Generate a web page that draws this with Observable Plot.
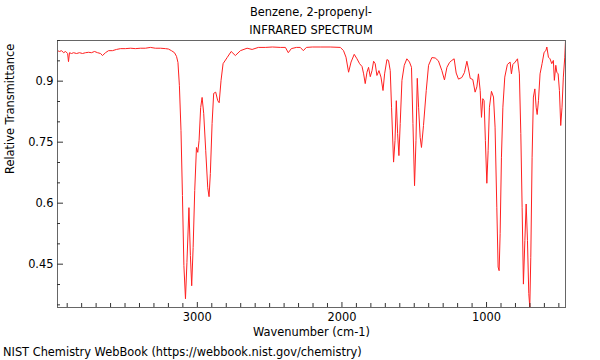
<!DOCTYPE html>
<html>
<head>
<meta charset="utf-8">
<script src="https://cdn.jsdelivr.net/npm/d3@7"></script>
<script src="https://cdn.jsdelivr.net/npm/@observablehq/plot@0.6"></script>
<style>
  body { margin: 0; background: #fff; font-family: "DejaVu Sans", sans-serif; }
  #title { width: 600px; box-sizing: border-box; padding: 3px 35px 0 57px; text-align: center; font-size: 11.4px; line-height: 18px; color: #000; height: 39px; }
  #caption { font-size: 11.4px; line-height: 20px; padding-left: 3px; color: #000; }
</style>
</head>
<body>
<div id="title"><div>Benzene, 2-propenyl-</div><div>INFRARED SPECTRUM</div></div>
<div id="chart"></div>
<div id="caption">NIST Chemistry WebBook (https://webbook.nist.gov/chemistry)</div>
<script>
const wavenumber = [3967,3953,3939,3925,3911,3897,3891,3884,3870,3856,3835,3815,3794,3773,3752,3732,3711,3690,3669,3656,3635,3614,3587,3559,3531,3497,3462,3428,3393,3359,3324,3290,3255,3220,3200,3179,3158,3144,3134,3124,3113,3103,3093,3082,3072,3058,3048,3039,3029,3018,3006,2997,2988,2977,2967,2956,2942,2928,2919,2910,2898,2887,2873,2859,2849,2836,2822,2794,2766,2737,2702,2656,2621,2578,2530,2481,2426,2391,2371,2350,2315,2288,2267,2246,2205,2150,2081,2011,1989,1972,1954,1937,1915,1896,1878,1861,1850,1839,1827,1816,1804,1792,1781,1770,1758,1744,1730,1716,1705,1689,1678,1666,1657,1643,1633,1624,1615,1606,1597,1585,1569,1551,1533,1519,1509,1498,1488,1479,1470,1459,1450,1436,1417,1401,1378,1355,1333,1309,1291,1274,1256,1240,1224,1210,1194,1171,1153,1136,1125,1113,1095,1079,1067,1056,1044,1035,1026,1017,1008,998,989,980,966,952,941,929,920,913,906,897,887,874,856,837,828,818,802,786,773,763,754,745,735,726,717,708,701,694,685,676,666,657,650,641,630,616,602,590,583,572,561,549,538,531,521,514,505,496,487,478,469,459,454];
const transmittance = [0.975,0.973,0.975,0.970,0.973,0.968,0.948,0.970,0.968,0.970,0.968,0.970,0.968,0.970,0.971,0.970,0.973,0.970,0.968,0.963,0.970,0.975,0.975,0.978,0.980,0.980,0.981,0.980,0.981,0.981,0.983,0.981,0.981,0.980,0.979,0.975,0.970,0.961,0.946,0.889,0.779,0.619,0.447,0.365,0.454,0.589,0.471,0.397,0.491,0.631,0.737,0.725,0.754,0.835,0.860,0.821,0.729,0.638,0.616,0.673,0.796,0.870,0.873,0.852,0.847,0.902,0.943,0.958,0.973,0.963,0.975,0.981,0.978,0.983,0.983,0.984,0.983,0.983,0.970,0.980,0.983,0.983,0.975,0.983,0.984,0.984,0.984,0.983,0.975,0.959,0.922,0.947,0.966,0.955,0.943,0.936,0.918,0.894,0.922,0.934,0.911,0.926,0.949,0.943,0.914,0.926,0.910,0.877,0.918,0.953,0.951,0.926,0.836,0.701,0.754,0.852,0.771,0.717,0.796,0.902,0.939,0.955,0.947,0.934,0.796,0.643,0.754,0.907,0.836,0.762,0.737,0.791,0.877,0.939,0.958,0.957,0.950,0.926,0.903,0.934,0.946,0.951,0.955,0.920,0.905,0.909,0.921,0.949,0.930,0.907,0.904,0.873,0.886,0.918,0.877,0.811,0.857,0.852,0.754,0.649,0.729,0.836,0.875,0.861,0.787,0.590,0.443,0.434,0.525,0.713,0.836,0.910,0.941,0.947,0.918,0.941,0.947,0.955,0.918,0.771,0.590,0.401,0.508,0.598,0.508,0.378,0.344,0.467,0.713,0.861,0.881,0.836,0.818,0.852,0.918,0.943,0.971,0.975,0.984,0.959,0.955,0.943,0.951,0.902,0.939,0.922,0.918,0.877,0.791,0.836,0.910,0.959,1.000];

const xMajor = [3000, 2000, 1000];
const xMinor = [3900,3800,3700,3600,3500,3400,3300,3200,3100,2900,2800,2700,2600,2500,2400,2300,2200,2100,1900,1800,1700,1600,1500,1400,1300,1200,1100,900,800,700,600,500];
const yMajor = [0.45, 0.6, 0.75, 0.9];
const yMinor = [0.35,0.4,0.5,0.55,0.65,0.7,0.8,0.85,0.95,1.0];

const data = wavenumber.map((w, i) => ({wn: w, t: transmittance[i]}));

const W = 600, H = 303, mt = 1, mb = 35, ml = 57, mr = 35;
const pw = W - ml - mr, ph = H - mt - mb;

const chart = Plot.plot({
  width: W, height: H,
  marginTop: mt, marginBottom: mb, marginLeft: ml, marginRight: mr,
  style: {fontFamily: "DejaVu Sans", fontSize: "11.4px", color: "#000", background: "#fff"},
  x: {domain: [3967, 454]},
  y: {domain: [0.3435, 1.0]},
  marks: [
    Plot.line(data, {x: "wn", y: "t", stroke: "#ff2020", strokeWidth: 1, clip: true}),
    Plot.frame({stroke: "#666", strokeWidth: 1}),
    Plot.tickX(xMinor, {x: d => d, insetTop: ph - 4, stroke: "#333"}),
    Plot.tickX(xMajor, {x: d => d, insetTop: ph - 5, stroke: "#333"}),
    Plot.tickY(yMinor, {y: d => d, insetRight: pw - 3, stroke: "#333"}),
    Plot.tickY(yMajor, {y: d => d, insetRight: pw - 6, stroke: "#333"}),
    Plot.axisX(xMajor, {tickSize: 0, tickPadding: 5, label: null, tickFormat: d => String(d)}),
    Plot.axisY(yMajor, {tickSize: 0, tickPadding: 4, label: null, tickFormat: d => String(d)}),
    Plot.text(["Wavenumber (cm-1)"], {frameAnchor: "bottom", lineAnchor: "middle", dy: 25, fill: "#000"}),
    Plot.text(["Relative Transmittance"], {frameAnchor: "left", lineAnchor: "middle", rotate: -90, dx: -47, fill: "#000"})
  ]
});
document.getElementById("chart").appendChild(chart);
</script>
</body>
</html>
